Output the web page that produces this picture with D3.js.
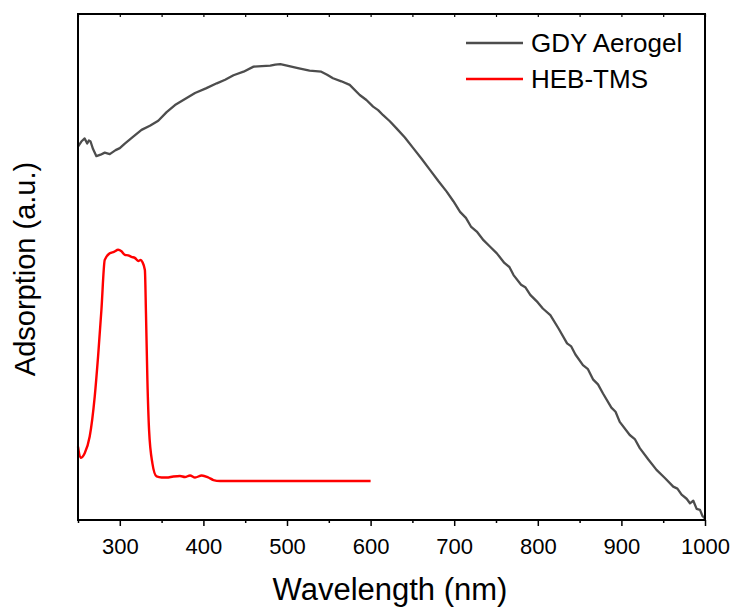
<!DOCTYPE html>
<html>
<head>
<meta charset="utf-8">
<script src="https://cdn.jsdelivr.net/npm/d3@7"></script>
<style>
  html, body { margin: 0; padding: 0; background: #fff; }
  text { font-family: "Liberation Sans", Arial, sans-serif; fill: #000; }
</style>
</head>
<body>
<svg id="chart" width="740" height="612"></svg>
<script>
// ---- data ----
const gdyWavelength = [250,254,258,261,263,265,268,272,277,282,288,295,300,306,315,326,336,346,356,366,378,390,403,416,426,436,448,460,470,480,486,492,500,513,527,541,548,555,565,575,587,595,603,609,615,623,631,641,651,661,671,681,691,699,707,714,720,727,735,743,751,760,766,771,780,785,791,800,806,815,825,835,840,845,854,860,866,872,878,888,893,898,910,916,922,932,942,952,962,967,972,978,982,986,990,994,997,1000];
const gdyAbsorption = [0.738,0.748,0.754,0.744,0.750,0.748,0.733,0.719,0.722,0.726,0.723,0.731,0.735,0.744,0.756,0.771,0.779,0.789,0.806,0.820,0.832,0.844,0.853,0.863,0.870,0.879,0.886,0.896,0.897,0.898,0.900,0.901,0.898,0.893,0.888,0.886,0.880,0.873,0.867,0.860,0.840,0.830,0.817,0.810,0.800,0.788,0.774,0.756,0.735,0.714,0.692,0.670,0.649,0.630,0.609,0.597,0.580,0.570,0.553,0.540,0.527,0.508,0.500,0.484,0.465,0.460,0.445,0.430,0.418,0.405,0.378,0.349,0.343,0.327,0.306,0.298,0.278,0.268,0.250,0.222,0.214,0.194,0.168,0.160,0.142,0.120,0.099,0.083,0.066,0.062,0.050,0.042,0.033,0.038,0.022,0.020,0.008,0.003];

const hebWavelength = [250,253,258,264,270,274,278,282,288,293,298,302,306,310,314,318,322,325,327,330,331.3,333,335,339,344,350,356,364,372,378,384,390,398,406,412,420,450,500,550,600];
const hebAbsorption = [0.145,0.123,0.132,0.165,0.244,0.323,0.415,0.514,0.527,0.530,0.534,0.531,0.524,0.523,0.520,0.518,0.512,0.514,0.510,0.494,0.409,0.277,0.178,0.112,0.086,0.084,0.084,0.086,0.087,0.085,0.088,0.084,0.088,0.084,0.079,0.077,0.077,0.077,0.077,0.077];

const seriesNames = ["GDY Aerogel", "HEB-TMS"];
const seriesColors = ["#4d4d4d", "#ff0000"];
const xMajorTicks = [300,400,500,600,700,800,900,1000];
const xMinorTicks = [250,350,450,550,650,750,850,950];
const xLabel = "Wavelength (nm)";
const yLabel = "Adsorption (a.u.)";

(function () {
  const svg = d3.select("#chart");
  const L = 78, R = 705, T = 14, B = 520;
  const x = d3.scaleLinear().domain([250, 1000]).range([L, R]);
  const y = d3.scaleLinear().domain([0, 1]).range([B, T]);

  const gdy = gdyWavelength.map((w, i) => [w, gdyAbsorption[i]]);
  const heb = hebWavelength.map((w, i) => [w, hebAbsorption[i]]);

  svg.append("path").datum(gdy)
    .attr("d", d3.line().x(d => x(d[0])).y(d => y(d[1])))
    .attr("fill", "none").attr("stroke", seriesColors[0])
    .attr("stroke-width", 2.3).attr("stroke-linejoin", "round");

  svg.append("path").datum(heb)
    .attr("d", d3.line().x(d => x(d[0])).y(d => y(d[1])).curve(d3.curveMonotoneX))
    .attr("fill", "none").attr("stroke", seriesColors[1])
    .attr("stroke-width", 2.4).attr("stroke-linejoin", "round");

  const bottomAxis = svg.append("g").attr("transform", `translate(0,${B})`);
  bottomAxis.call(d3.axisBottom(x).tickValues(xMajorTicks).tickSize(6).tickPadding(12).tickFormat(d3.format("d")))
    .call(g => g.select(".domain").remove())
    .call(g => g.selectAll(".tick line").attr("stroke", "#000").attr("stroke-width", 1.5))
    .call(g => g.selectAll(".tick text").attr("font-size", 22).attr("font-family", "Liberation Sans, Arial, sans-serif").attr("fill", "#000"));
  bottomAxis.append("g").call(d3.axisBottom(x).tickValues(xMinorTicks).tickSize(3).tickFormat(""))
    .call(g => g.select(".domain").remove())
    .call(g => g.selectAll(".tick line").attr("stroke", "#000").attr("stroke-width", 1.5));

  const topAxis = svg.append("g").attr("transform", `translate(0,${T})`);
  topAxis.call(d3.axisBottom(x).tickValues(xMajorTicks.concat(xMinorTicks)).tickSize(3).tickFormat(""))
    .call(g => g.select(".domain").remove())
    .call(g => g.selectAll(".tick line").attr("stroke", "#000").attr("stroke-width", 1.2));

  svg.append("rect").attr("x", L).attr("y", T).attr("width", R - L).attr("height", B - T)
    .attr("fill", "none").attr("stroke", "#000").attr("stroke-width", 2);

  svg.append("text").attr("x", 390).attr("y", 600)
    .attr("text-anchor", "middle").attr("font-size", 31).text(xLabel);
  svg.append("text").attr("transform", `translate(35,269) rotate(-90)`)
    .attr("text-anchor", "middle").attr("font-size", 29).text(yLabel);

  const legY = [43, 79];
  seriesNames.forEach((name, i) => {
    svg.append("line").attr("x1", 466).attr("x2", 523).attr("y1", legY[i]).attr("y2", legY[i])
      .attr("stroke", seriesColors[i]).attr("stroke-width", 2.4);
    svg.append("text").attr("x", 531).attr("y", legY[i] + 9).attr("font-size", 26).text(name);
  });
})();
</script>
</body>
</html>
